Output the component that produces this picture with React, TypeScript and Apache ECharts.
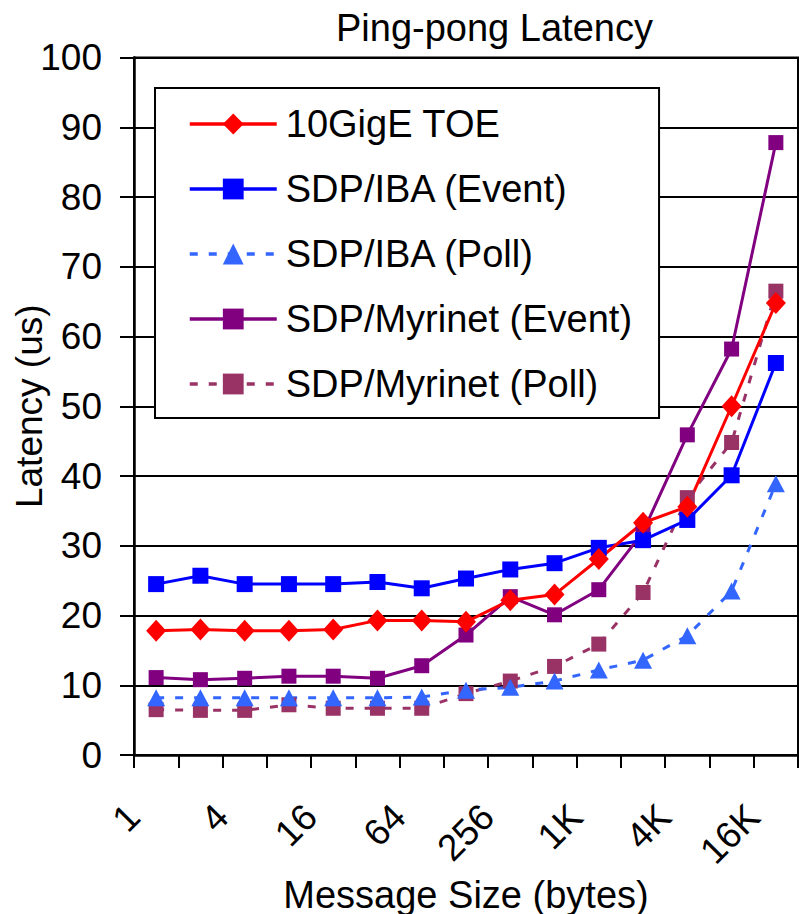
import React, { useEffect, useRef } from "react";
import * as echarts from "echarts";

const categories = ["1", "2", "4", "8", "16", "32", "64", "128", "256", "512", "1K", "2K", "4K", "8K", "16K"];
const toe = [17.8, 18.0, 17.8, 17.8, 18.0, 19.3, 19.3, 19.1, 22.2, 23.0, 28.1, 33.3, 35.6, 50.0, 64.8];
const ibaEvent = [24.5, 25.7, 24.5, 24.5, 24.5, 24.8, 23.9, 25.3, 26.6, 27.5, 29.7, 30.8, 33.7, 40.1, 56.2];
const ibaPoll = [8.2, 8.2, 8.2, 8.2, 8.2, 8.2, 8.3, 9.3, 9.7, 10.6, 12.2, 13.6, 17.1, 23.5, 38.9];
const myriEvent = [11.1, 10.8, 11.0, 11.3, 11.3, 11.0, 12.8, 17.2, 22.7, 20.1, 23.7, 32.0, 45.9, 58.2, 87.8];
const myriPoll = [6.5, 6.4, 6.4, 7.2, 6.7, 6.7, 6.7, 8.8, 10.6, 12.7, 15.9, 23.3, 36.9, 44.8, 66.5];

const FONT = "'Liberation Sans', Arial, sans-serif";

export default function App() {
  const ref = useRef<HTMLDivElement>(null);
  useEffect(() => {
    if (!ref.current) return;
    const chart = echarts.init(ref.current, null, { renderer: "svg" });
    const mk = (name: string, data: number[], color: string, symbol: string, size: any, dashed: boolean) => ({
      name,
      type: "line",
      data,
      symbol,
      symbolSize: size,
      showSymbol: true,
      lineStyle: { color, width: 3, type: dashed ? [8, 11] : "solid" },
      itemStyle: { color, borderWidth: 0 },
      emphasis: { disabled: true },
    });
    chart.setOption({
      animation: false,
      backgroundColor: "#fff",
      textStyle: { fontFamily: FONT },
      title: {
        text: "Ping-pong Latency",
        left: 336,
        top: 9,
        padding: 0,
        textStyle: { fontFamily: FONT, fontSize: 38, fontWeight: "normal", color: "#000" },
      },
      legend: {
        orient: "vertical",
        left: 155,
        top: 88,
        padding: [16, 27, 14, 33],
        itemGap: 25,
        itemWidth: 87,
        itemHeight: 26,
        backgroundColor: "#fff",
        borderColor: "#000",
        borderWidth: 2,
        borderRadius: 0,
        lineStyle: { width: 3.5 },
        textStyle: { fontFamily: FONT, fontSize: 38, color: "#000", lineHeight: 40, padding: [0, 0, 0, 4] },
        data: ["10GigE TOE", "SDP/IBA (Event)", "SDP/IBA (Poll)", "SDP/Myrinet (Event)", "SDP/Myrinet (Poll)"],
      },
      grid: {
        left: 134,
        right: 1,
        top: 57.5,
        bottom: 159,
        show: true,
        borderColor: "#000",
        borderWidth: 2,
        containLabel: false,
        outerBoundsMode: "none",
      },
      xAxis: {
        type: "category",
        data: categories,
        boundaryGap: true,
        name: "Message Size (bytes)",
        nameLocation: "middle",
        nameGap: 121,
        nameMoveOverlap: false,
        nameTextStyle: { fontFamily: FONT, fontSize: 38, color: "#000" },
        axisLine: { show: true, lineStyle: { color: "#000", width: 2.5 } },
        axisTick: { show: true, interval: 0, length: 13, lineStyle: { color: "#000", width: 2 } },
        axisLabel: {
          interval: 1,
          rotate: 45,
          margin: 33,
          padding: [0, 32, 0, 0],
          fontFamily: FONT,
          fontSize: 37,
          color: "#000",
        },
        splitLine: { show: false },
      },
      yAxis: {
        type: "value",
        min: 0,
        max: 100,
        interval: 10,
        name: "Latency (us)",
        nameLocation: "middle",
        nameRotate: 90,
        nameGap: 86,
        nameMoveOverlap: false,
        nameTextStyle: { fontFamily: FONT, fontSize: 37, color: "#000" },
        axisLine: { show: true, lineStyle: { color: "#000", width: 2.5 } },
        axisTick: { show: true, length: 14, lineStyle: { color: "#000", width: 2 } },
        axisLabel: { margin: 32, fontFamily: FONT, fontSize: 37, color: "#000" },
        splitLine: { show: true, lineStyle: { color: "#000", width: 2 } },
      },
      series: [
        mk("SDP/Myrinet (Poll)", myriPoll, "#993366", "rect", 15, true),
        mk("SDP/IBA (Poll)", ibaPoll, "#3366FF", "triangle", [18, 17], true),
        mk("SDP/Myrinet (Event)", myriEvent, "#800080", "rect", 15, false),
        mk("SDP/IBA (Event)", ibaEvent, "#0000FF", "rect", 16, false),
        mk("10GigE TOE", toe, "#FF0000", "diamond", [20, 22], false),
      ],
    });
    return () => chart.dispose();
  }, []);
  return <div ref={ref} style={{ position: "fixed", left: 0, top: 0, width: 799, height: 914 }} />;
}
